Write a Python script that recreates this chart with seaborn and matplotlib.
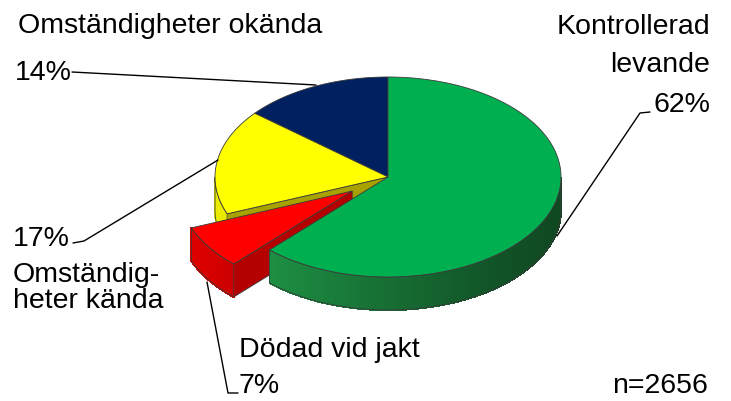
import numpy as np
import matplotlib.pyplot as plt
import seaborn as sns
from matplotlib.colors import to_rgb

# Data
labels = ["Kontrollerad levande", "Dödad vid jakt", "Omständigheter kända", "Omständigheter okända"]
values = [62, 7, 17, 14]
top_colors = ["#00B050", "#FF0000", "#FFFF00", "#002060"]
wall_colors = ["#1E9144", "#D00000", "#D8D800", "#001850"]
cut_colors = ["#007A30", "#B40000", "#A8A200", "#001040"]
explode = [0.0, 0.25, 0.0, 0.0]
pct_text = ["62%", "7%", "17%", "14%"]
n_total = 2656

sns.set_style("white")
plt.rcParams['font.family'] = ['Liberation Sans', 'DejaVu Sans']
plt.rcParams['text.color'] = 'black'

fig = plt.figure(figsize=(7.31, 4.02), dpi=100)
ax = fig.add_axes([0, 0, 1, 1])
ax.set_xlim(0, 731)
ax.set_ylim(402, 0)
ax.axis('off')

# pie geometry in pixels
cx, cy, rx, ry, depth = 388, 178, 173, 100, 33
edge = "#3a3a3a"


def xy(theta, dx, dy, r=1.0):
    t = np.radians(theta)
    return cx + rx * (r * np.cos(t) + dx), cy - ry * (r * np.sin(t) + dy)


# slice angles, clockwise from 12 o'clock
cum = np.cumsum([0] + values) / sum(values) * 360
slices = []
for i in range(len(values)):
    a, b = 90 - cum[i + 1], 90 - cum[i]
    mid = np.radians((a + b) / 2)
    dx, dy = explode[i] * np.cos(mid), explode[i] * np.sin(mid)
    px, py = xy(np.linspace(a, b, 200), dx, dy)
    ox, oy = xy(0, dx, dy, r=0)
    slices.append((max(py.max(), oy), i, a, b, dx, dy))

slices.sort()
for key, i, a, b, dx, dy in slices:
    ox, oy = xy(0, dx, dy, r=0)
    # cut faces facing the viewer
    for ang, vis in [(a, np.cos(np.radians(a)) > 0), (b, np.cos(np.radians(b)) < 0)]:
        if vis:
            ex, ey = xy(ang, dx, dy)
            ax.fill([ox, ex, ex, ox], [oy, ey, ey + depth, oy + depth],
                    facecolor=cut_colors[i], edgecolor=edge, lw=0.6, zorder=1)
    # outer wall (front half only), shaded darker to the right
    th = np.linspace(a, b, 300)
    th = th[np.sin(np.radians(th)) < 0]
    if len(th) > 1:
        base = np.array(to_rgb(wall_colors[i]))
        for t0, t1 in zip(th[:-1], th[1:]):
            tm = np.radians((t0 + t1) / 2)
            f = 0.5 + 0.6 * ((1 - np.cos(tm)) / 2) ** 1.2
            c = tuple(np.clip(base * f, 0, 1))
            x0, y0 = xy(t0, dx, dy)
            x1, y1 = xy(t1, dx, dy)
            ax.fill([x0, x1, x1, x0], [y0, y1, y1 + depth, y0 + depth],
                    facecolor=c, edgecolor=c, lw=0.8, antialiased=False, zorder=1)
        wx, wy = xy(th, dx, dy)
        ax.fill(np.r_[wx, wx[::-1]], np.r_[wy, (wy + depth)[::-1]],
                facecolor="none", edgecolor=edge, lw=0.6, zorder=1)
    # top face
    tx, ty = xy(np.linspace(a, b, 300), dx, dy)
    ax.fill(np.r_[ox, tx], np.r_[oy, ty], facecolor=top_colors[i],
            edgecolor=edge, lw=0.6, zorder=1)

# labels and leader lines
fs = 20.5
ax.text(18, 33, labels[3], fontsize=fs, va="baseline", ha="left")
ax.text(15, 80, pct_text[3], fontsize=fs, va="baseline", ha="left")
ax.plot([72, 316], [73, 86], color="black", lw=1)

ax.text(710, 34, "Kontrollerad", fontsize=fs, va="baseline", ha="right")
ax.text(710, 72, "levande", fontsize=fs, va="baseline", ha="right")
ax.text(710, 112, pct_text[0], fontsize=fs, va="baseline", ha="right")
ax.plot([650, 640, 557], [113, 114, 237], color="black", lw=1)

ax.text(13, 246, pct_text[2], fontsize=fs, va="baseline", ha="left")
ax.plot([73, 84, 218], [244, 242, 161], color="black", lw=1)
ax.text(13, 282, "Omständig-", fontsize=fs, va="baseline", ha="left")
ax.text(13, 308, "heter kända", fontsize=fs, va="baseline", ha="left")

ax.text(239, 357, labels[1], fontsize=fs, va="baseline", ha="left")
ax.text(239, 393, pct_text[1], fontsize=fs, va="baseline", ha="left")
ax.plot([207, 228, 238], [283, 394, 394], color="black", lw=1)

ax.text(708, 393, f"n={n_total}", fontsize=fs, va="baseline", ha="right")

plt.savefig("out.png", dpi=100)
